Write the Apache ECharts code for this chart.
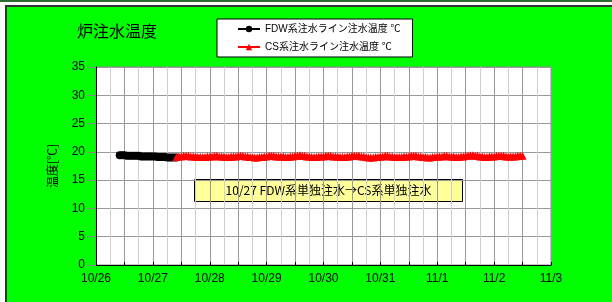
<!DOCTYPE html>
<html><head><meta charset="utf-8">
<script src="https://cdn.jsdelivr.net/npm/echarts@6/dist/echarts.min.js"></script>
<style>html,body{margin:0;padding:0;background:#fff;}#c{width:612px;height:302px;}</style>
</head><body><div id="c"></div>
<script>
// x ticks (days from 10/26 00:00)
const xTickLabels = ['10/26','10/27','10/28','10/29','10/30','10/31','11/1','11/2','11/3'];
const yTicks = [0,5,10,15,20,25,30,35];
// FDW series: hourly from 10/26 10:00
const fdwStartHour = 10;
const fdwValues = [19.4,19.4,19.4,19.3,19.3,19.3,19.3,19.3,19.3,19.2,19.2,19.2,19.2,19.2,19.2,19.2,19.1,19.1,19.1,19.1,19.0,19.0,19.0,19.0,19.0];
// CS series: hourly from 10/27 10:00
const csStartHour = 34;
const csValues = [
19.1,19.2,19.2,19.3,19.3,19.3,19.2,19.2,19.2,19.1,19.1,19.1,19.1,19.2,19.2,19.2,19.3,19.3,19.2,19.2,19.2,19.1,19.1,19.2,
19.2,19.2,19.3,19.3,19.3,19.2,19.2,19.1,19.1,19.0,19.0,19.1,19.1,19.2,19.2,19.3,19.3,19.3,19.2,19.2,19.2,19.2,19.1,19.1,
19.2,19.2,19.3,19.3,19.4,19.3,19.3,19.2,19.2,19.1,19.1,19.1,19.2,19.2,19.2,19.3,19.3,19.3,19.2,19.2,19.2,19.1,19.1,19.1,
19.2,19.2,19.3,19.3,19.3,19.3,19.2,19.2,19.1,19.0,19.0,19.0,19.1,19.1,19.2,19.2,19.3,19.3,19.2,19.2,19.1,19.1,19.1,19.1,
19.2,19.2,19.2,19.3,19.3,19.3,19.2,19.2,19.1,19.1,19.0,19.0,19.1,19.1,19.2,19.2,19.2,19.3,19.3,19.2,19.2,19.2,19.1,19.1,
19.2,19.2,19.3,19.3,19.4,19.4,19.3,19.3,19.2,19.2,19.1,19.1,19.2,19.2,19.2,19.3,19.3,19.3,19.3,19.2,19.2,19.2,19.2,19.2,
19.3,19.3,19.3];
const titleText = '炉注水温度';
const fdwName = 'FDW系注水ライン注水温度 ℃';
const csName = 'CS系注水ライン注水温度 ℃';
const yName = '温度[℃]';
const noteText = '10/27 FDW系単独注水→CS系単独注水';

const FONT = "'Liberation Sans','Noto Sans CJK JP',sans-serif";
const JFONT = "'Noto Sans CJK JP','Liberation Sans',sans-serif";
const fdwData = fdwValues.map((v,i)=>[(fdwStartHour+i)/24, v]);
const csData = csValues.map((v,i)=>[(csStartHour+i)/24, v]);

const chart = echarts.init(document.getElementById('c'), null, {renderer:'canvas'});
chart.setOption({
  backgroundColor: '#ffffff',
  animation: false,
  graphic: [
    {type:'rect', z:-10, shape:{x:0,y:0,width:612,height:2}, style:{fill:'#2e6b2e'}},
    {type:'rect', z:-10, shape:{x:5,y:5,width:607,height:297}, style:{fill:'#333333'}},
    {type:'rect', z:-9, shape:{x:7,y:7,width:605,height:295}, style:{fill:'#00ff00'}},
    {type:'group', left:194, top:179, z:100, children:[
      {type:'rect', shape:{x:0,y:0,width:268,height:22}, style:{fill:'#ffff99', stroke:'#000', lineWidth:1}},
      {type:'text', x:134, y:11, style:{text:noteText, fill:'#000', font:"12px "+JFONT, align:'center', verticalAlign:'middle'}}
    ]}
  ],
  title: {text:titleText, left:72, top:18, textStyle:{fontSize:16, fontWeight:'normal', color:'#000', fontFamily:JFONT}},
  legend: {
    left:217, top:19, orient:'vertical', itemGap:8, itemWidth:22, itemHeight:8,
    backgroundColor:'#fff', borderColor:'#000', borderWidth:1, padding:[5,12,5,20],
    textStyle:{fontSize:10, color:'#000', fontFamily:FONT},
    data:[fdwName, csName]
  },
  grid: {left:96, top:67, width:455, height:198, show:true, backgroundColor:'#fff', borderColor:'#888', borderWidth:1},
  xAxis: {
    type:'value', min:0, max:8, interval:0.5,
    axisLine:{show:true, lineStyle:{color:'#000', width:1}},
    axisTick:{show:true, inside:true, length:3, lineStyle:{color:'#000'}},
    axisLabel:{margin:8, fontSize:12, color:'#000', fontFamily:FONT,
      formatter:v=> (Math.abs(v-Math.round(v))<1e-6 ? xTickLabels[Math.round(v)] : '')},
    splitLine:{show:true, lineStyle:{color:'#999', width:1}},
    minorTick:{show:false, splitNumber:2},
    minorSplitLine:{show:true, lineStyle:{color:'#cfcfcf', width:1}}
  },
  yAxis: {
    type:'value', min:0, max:35, interval:5,
    name:yName, nameLocation:'middle', nameGap:38, nameRotate:90,
    nameTextStyle:{fontSize:12, color:'#000', fontFamily:JFONT, padding:[0,0,0,0]},
    axisLine:{show:true, lineStyle:{color:'#000', width:1}},
    axisTick:{show:true, inside:false, length:9, lineStyle:{color:'#888'}},
    axisLabel:{margin:11, fontSize:12, color:'#000', fontFamily:FONT,
      formatter:v=> String(yTicks[yTicks.indexOf(v)])},
    splitLine:{show:true, lineStyle:{color:'#999', width:1}}
  },
  series: [
    {name:fdwName, type:'line', data:fdwData, symbol:'circle', symbolSize:8,
     itemStyle:{color:'#000'}, lineStyle:{color:'#000', width:2}, z:3},
    {name:csName, type:'line', data:csData, symbol:'triangle', symbolSize:8,
     itemStyle:{color:'#ff0000'}, lineStyle:{color:'#ff0000', width:2}, z:4}
  ]
});
</script></body></html>
